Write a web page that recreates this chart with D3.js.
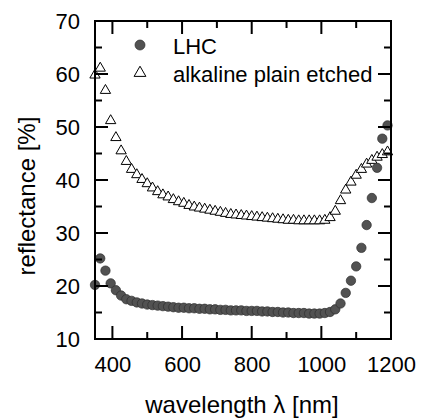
<!DOCTYPE html>
<html>
<head>
<meta charset="utf-8">
<script src="https://cdn.jsdelivr.net/npm/d3@7"></script>
<style>
    body { margin: 0; background: #fff; }
    svg text { font-family: "Liberation Sans", Arial, sans-serif; fill: #000; }
</style>
</head>
<body>
<div id="chart"></div>
<script>
// wavelength in nm, one reading every 15 nm
var wavelength = [350, 365, 380, 395, 410, 425, 440, 455, 470, 485,
    500, 515, 530, 545, 560, 575, 590, 605, 620, 635,
    650, 665, 680, 695, 710, 725, 740, 755, 770, 785,
    800, 815, 830, 845, 860, 875, 890, 905, 920, 935,
    950, 965, 980, 995, 1010, 1025, 1040, 1055, 1070, 1085,
    1100, 1115, 1130, 1145, 1160, 1175, 1190];

// reflectance [%] of the LHC sample
var lhcReflectance = [20.2, 25.2, 22.9, 20.5, 19.2, 18.2, 17.5, 17.2, 16.9, 16.7,
    16.5, 16.4, 16.3, 16.2, 16.1, 16.0, 15.9, 15.9, 15.8, 15.8,
    15.7, 15.7, 15.6, 15.6, 15.5, 15.5, 15.4, 15.4, 15.4, 15.3,
    15.3, 15.3, 15.2, 15.2, 15.1, 15.1, 15.0, 15.0, 14.9, 14.9,
    14.9, 14.8, 14.8, 14.8, 14.9, 15.1, 15.6, 16.7, 18.7, 21.0,
    23.7, 27.2, 31.5, 36.6, 42.3, 47.8, 50.3];

// reflectance [%] of the alkaline plain etched sample
var alkalineReflectance = [59.8, 61.1, 56.9, 51.2, 48.0, 45.5, 43.5, 42.0, 41.0, 40.1,
    39.3, 38.5, 37.8, 37.2, 36.8, 36.3, 35.9, 35.6, 35.2, 34.9,
    34.7, 34.5, 34.3, 34.1, 33.9, 33.7, 33.5, 33.4, 33.3, 33.2,
    33.1, 33.0, 32.9, 32.8, 32.7, 32.6, 32.5, 32.4, 32.4, 32.3,
    32.3, 32.3, 32.3, 32.3, 32.4, 32.9, 34.1, 36.1, 38.1, 39.6,
    40.9, 42.0, 43.0, 43.7, 44.3, 44.8, 45.3];

var seriesNames = ["LHC", "alkaline plain etched"];

var xMajorTicks = [400, 600, 800, 1000, 1200];
var xMinorTicks = [500, 700, 900, 1100];
var yMajorTicks = [10, 20, 30, 40, 50, 60, 70];
var yMinorTicks = [15, 25, 35, 45, 55, 65];

var plot = {left: 95, right: 391, top: 21, bottom: 339};

function drawChart() {
    var svg = d3.select("#chart")
        .append("svg")
        .attr("width", 422)
        .attr("height", 418);

    var x = d3.scaleLinear().domain([350, 1200]).range([plot.left, plot.right]);
    var y = d3.scaleLinear().domain([10, 70]).range([plot.bottom, plot.top]);

    var points = wavelength.map(function(w, i) {
        return {w: w, lhc: lhcReflectance[i], alk: alkalineReflectance[i]};
    });

    var triangle = d3.symbol().type(d3.symbolTriangle).size(46);

    svg.append("g").attr("class", "alkaline").selectAll("path")
        .data(points)
        .join("path")
        .attr("d", triangle)
        .attr("transform", function(d) { return "translate(" + x(d.w) + "," + y(d.alk) + ")"; })
        .attr("fill", "#fff")
        .attr("stroke", "#000")
        .attr("stroke-width", 1);

    svg.append("g").attr("class", "lhc").selectAll("circle")
        .data(points)
        .join("circle")
        .attr("cx", function(d) { return x(d.w); })
        .attr("cy", function(d) { return y(d.lhc); })
        .attr("r", 4.7)
        .attr("fill", "#525252")
        .attr("stroke", "#2e2e2e")
        .attr("stroke-width", 0.7);

    addLabels(svg, d3.axisBottom(x), xMajorTicks, 17, "translate(0," + plot.bottom + ")");
    addLabels(svg, d3.axisLeft(y), yMajorTicks, 15, "translate(" + plot.left + ",0)");

    // frame
    svg.append("rect")
        .attr("x", plot.left)
        .attr("y", plot.top)
        .attr("width", plot.right - plot.left)
        .attr("height", plot.bottom - plot.top)
        .attr("fill", "none")
        .attr("stroke", "#000")
        .attr("stroke-width", 2);

    // ticks point inwards on all four sides, drawn as thin filled bars
    xTickBars(svg, x, xMajorTicks, 13);
    xTickBars(svg, x, xMinorTicks, 7);
    yTickBars(svg, y, yMajorTicks, 13);
    yTickBars(svg, y, yMinorTicks, 7);

    // legend
    svg.append("circle")
        .attr("cx", 140).attr("cy", 45).attr("r", 5)
        .attr("fill", "#525252").attr("stroke", "#2e2e2e").attr("stroke-width", 0.7);
    svg.append("path")
        .attr("d", d3.symbol().type(d3.symbolTriangle).size(60))
        .attr("transform", "translate(140,73)")
        .attr("fill", "#fff").attr("stroke", "#000").attr("stroke-width", 1);
    svg.append("text").attr("x", 173).attr("y", 53.5)
        .style("font-size", "22px").text(seriesNames[0]);
    svg.append("text").attr("x", 173).attr("y", 81.5)
        .style("font-size", "22px").text(seriesNames[1]);

    // axis titles
    svg.append("text")
        .attr("x", 242).attr("y", 413)
        .attr("text-anchor", "middle")
        .style("font-size", "24px")
        .text("wavelength \u03bb [nm]");
    svg.append("text")
        .attr("transform", "translate(35,196) rotate(-90)")
        .attr("text-anchor", "middle")
        .style("font-size", "24px")
        .text("reflectance [%]");
}

function addLabels(svg, axis, ticks, padding, transform) {
    axis.tickValues(ticks)
        .tickSize(0)
        .tickPadding(padding)
        .tickFormat(d3.format("d"));
    var g = svg.append("g")
        .attr("transform", transform)
        .call(axis);
    g.select(".domain").remove();
    g.selectAll(".tick line").remove();
    g.selectAll(".tick text")
        .style("font-size", "22px")
        .attr("fill", "#000");
    return g;
}

// bottom and top ticks of the x axis
function xTickBars(svg, x, ticks, len) {
    var g = svg.append("g");
    g.selectAll("rect.bottom")
        .data(ticks)
        .join("rect")
        .attr("class", "bottom")
        .attr("x", function(v) { return x(v) - 1; })
        .attr("y", plot.bottom - len)
        .attr("width", 2)
        .attr("height", len)
        .attr("fill", "#000");
    g.selectAll("rect.top")
        .data(ticks)
        .join("rect")
        .attr("class", "top")
        .attr("x", function(v) { return x(v) - 1; })
        .attr("y", plot.top)
        .attr("width", 2)
        .attr("height", len)
        .attr("fill", "#000");
}

// left and right ticks of the y axis
function yTickBars(svg, y, ticks, len) {
    var g = svg.append("g");
    g.selectAll("rect.left")
        .data(ticks)
        .join("rect")
        .attr("class", "left")
        .attr("x", plot.left)
        .attr("y", function(v) { return y(v) - 1; })
        .attr("width", len)
        .attr("height", 2)
        .attr("fill", "#000");
    g.selectAll("rect.right")
        .data(ticks)
        .join("rect")
        .attr("class", "right")
        .attr("x", plot.right - len)
        .attr("y", function(v) { return y(v) - 1; })
        .attr("width", len)
        .attr("height", 2)
        .attr("fill", "#000");
}

drawChart();
</script>
</body>
</html>
